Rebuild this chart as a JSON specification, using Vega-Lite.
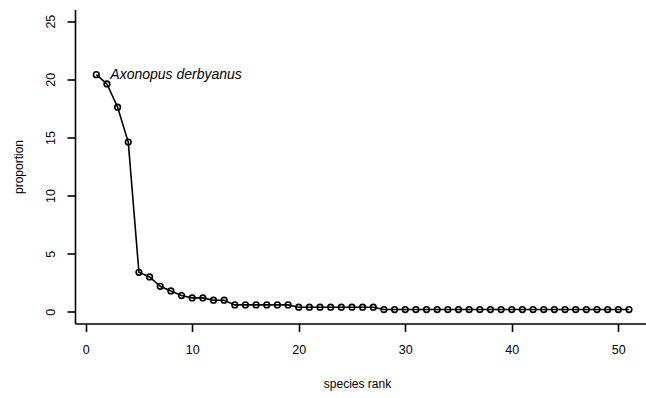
{
  "$schema": "https://vega.github.io/schema/vega-lite/v6.json",
  "width": 571,
  "height": 314,
  "autosize": {"type": "none"},
  "padding": {"left": 75, "top": 9.5, "right": 0, "bottom": 74.5},
  "background": "white",
  "config": {
    "view": {"stroke": null},
    "font": "Liberation Sans",
    "axis": {
      "grid": false,
      "domainColor": "black",
      "domainWidth": 1.6,
      "tickColor": "black",
      "tickWidth": 1.6,
      "tickSize": 8,
      "labelColor": "black",
      "labelFont": "Liberation Sans",
      "labelFontSize": 12.5,
      "labelFlush": false,
      "labelOverlap": false,
      "titleColor": "black",
      "titleFont": "Liberation Sans",
      "titleFontSize": 12,
      "titleFontWeight": "normal"
    }
  },
  "datasets": {
    "ranks": [
      {"rank": 1, "proportion": 20.4},
      {"rank": 2, "proportion": 19.6},
      {"rank": 3, "proportion": 17.6},
      {"rank": 4, "proportion": 14.6},
      {"rank": 5, "proportion": 3.4},
      {"rank": 6, "proportion": 3.0},
      {"rank": 7, "proportion": 2.2},
      {"rank": 8, "proportion": 1.8},
      {"rank": 9, "proportion": 1.4},
      {"rank": 10, "proportion": 1.2},
      {"rank": 11, "proportion": 1.2},
      {"rank": 12, "proportion": 1.0},
      {"rank": 13, "proportion": 1.0},
      {"rank": 14, "proportion": 0.6},
      {"rank": 15, "proportion": 0.6},
      {"rank": 16, "proportion": 0.6},
      {"rank": 17, "proportion": 0.6},
      {"rank": 18, "proportion": 0.6},
      {"rank": 19, "proportion": 0.6},
      {"rank": 20, "proportion": 0.4},
      {"rank": 21, "proportion": 0.4},
      {"rank": 22, "proportion": 0.4},
      {"rank": 23, "proportion": 0.4},
      {"rank": 24, "proportion": 0.4},
      {"rank": 25, "proportion": 0.4},
      {"rank": 26, "proportion": 0.4},
      {"rank": 27, "proportion": 0.4},
      {"rank": 28, "proportion": 0.2},
      {"rank": 29, "proportion": 0.2},
      {"rank": 30, "proportion": 0.2},
      {"rank": 31, "proportion": 0.2},
      {"rank": 32, "proportion": 0.2},
      {"rank": 33, "proportion": 0.2},
      {"rank": 34, "proportion": 0.2},
      {"rank": 35, "proportion": 0.2},
      {"rank": 36, "proportion": 0.2},
      {"rank": 37, "proportion": 0.2},
      {"rank": 38, "proportion": 0.2},
      {"rank": 39, "proportion": 0.2},
      {"rank": 40, "proportion": 0.2},
      {"rank": 41, "proportion": 0.2},
      {"rank": 42, "proportion": 0.2},
      {"rank": 43, "proportion": 0.2},
      {"rank": 44, "proportion": 0.2},
      {"rank": 45, "proportion": 0.2},
      {"rank": 46, "proportion": 0.2},
      {"rank": 47, "proportion": 0.2},
      {"rank": 48, "proportion": 0.2},
      {"rank": 49, "proportion": 0.2},
      {"rank": 50, "proportion": 0.2},
      {"rank": 51, "proportion": 0.2}
    ],
    "ann": [
      {"rank": 1, "proportion": 20.4, "label": "Axonopus derbyanus"}
    ]
  },
  "encoding": {
    "x": {
      "field": "rank",
      "type": "quantitative",
      "scale": {"domain": [-1, 52.6], "nice": false, "zero": false},
      "axis": {
        "values": [0, 10, 20, 30, 40, 50],
        "labelPadding": 12,
        "title": "species rank",
        "titleX": 282,
        "titleY": 64,
        "titleAlign": "center",
        "titleBaseline": "alphabetic"
      }
    },
    "y": {
      "field": "proportion",
      "type": "quantitative",
      "scale": {"domain": [-1, 26], "nice": false, "zero": false},
      "axis": {
        "values": [0, 5, 10, 15, 20, 25],
        "labelAngle": 270,
        "labelAlign": "center",
        "labelBaseline": "bottom",
        "labelPadding": 10,
        "title": "proportion",
        "titleAngle": 270,
        "titleX": -53,
        "titleY": 157,
        "titleAlign": "center",
        "titleBaseline": "alphabetic"
      }
    }
  },
  "layer": [
    {
      "data": {"name": "ranks"},
      "mark": {"type": "line", "color": "black", "strokeWidth": 1.6}
    },
    {
      "data": {"name": "ranks"},
      "mark": {"type": "point", "shape": "circle", "filled": false, "color": "black", "size": 32, "strokeWidth": 1.6, "opacity": 1}
    },
    {
      "data": {"name": "ann"},
      "mark": {"type": "text", "align": "left", "baseline": "middle", "dx": 14, "fontStyle": "italic", "fontSize": 14, "font": "Liberation Sans", "color": "black"},
      "encoding": {"text": {"field": "label"}}
    }
  ]
}
